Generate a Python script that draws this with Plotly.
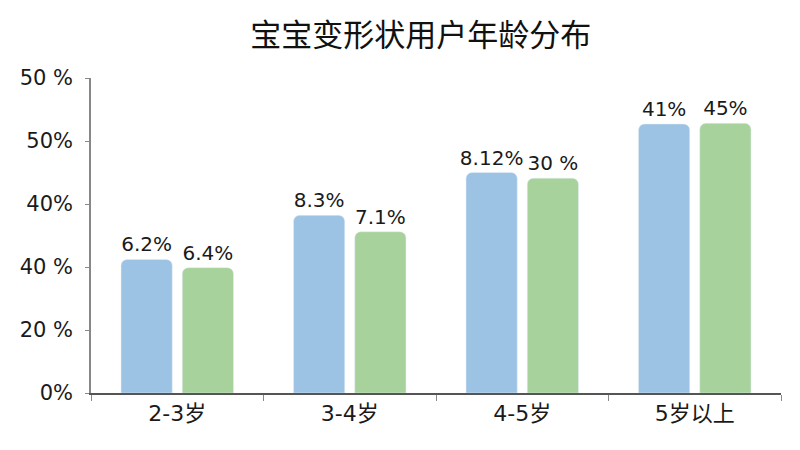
import plotly.graph_objects as go

# age groups and the two series (heights, in axis units 0..5)
categories = ["2-3岁", "3-4岁", "4-5岁", "5岁以上"]
blue_values = [2.12, 2.82, 3.50, 4.27]
green_values = [1.99, 2.56, 3.41, 4.28]
blue_labels = ["6.2%", "8.3%", "8.12%", "41%"]
green_labels = ["6.4%", "7.1%", "30 %", "45%"]

# y tick labels exactly as printed on the chart
tick_vals = [0, 1, 2, 3, 4, 5]
tick_text = ["0%", "20 %", "40 %", "40%", "50%", "50 %"]

num_font = "DejaVu Sans, Noto Sans CJK SC"
cjk_font = "Noto Sans CJK SC"

fig = go.Figure()
fig.add_trace(go.Bar(
    x=categories, y=blue_values, text=blue_labels,
    marker=dict(color="#9CC2E4", cornerradius=6),
    textposition="outside", cliponaxis=False, constraintext="none",
    textfont=dict(size=20, color="#1a1a1a", family=num_font),
))
fig.add_trace(go.Bar(
    x=categories, y=green_values, text=green_labels,
    marker=dict(color="#A7D29B", cornerradius=6),
    textposition="outside", cliponaxis=False, constraintext="none",
    textfont=dict(size=20, color="#1a1a1a", family=num_font),
))

# the page adds an 8px body margin, so margins are shifted to compensate
fig.update_layout(
    width=800, height=450,
    paper_bgcolor="white", plot_bgcolor="white",
    showlegend=False,
    barmode="group", bargap=0.29, bargroupgap=0.164,
    margin=dict(l=83, r=27, t=70, b=65),
    font=dict(family=num_font, color="#1a1a1a"),
    title=dict(text="宝宝变形状用户年龄分布", x=0.516, xanchor="center",
               y=0.94, yanchor="middle",
               font=dict(size=31, family=cjk_font, color="#111111")),
)
fig.update_yaxes(
    range=[0, 5], tickvals=tick_vals, ticktext=tick_text,
    showgrid=False, zeroline=False, automargin=False,
    showline=True, linecolor="#888888", linewidth=1.5,
    ticks="outside", ticklen=4, tickcolor="#888888",
    ticklabelstandoff=8,
    tickfont=dict(size=21, family=num_font, color="#1a1a1a"),
)
fig.update_xaxes(
    showline=True, linecolor="#555555", linewidth=1.5, automargin=False,
    ticks="outside", ticklen=6, tickcolor="#888888",
    tickson="boundaries",
    tickfont=dict(size=22, family=num_font, color="#1a1a1a"),
)

fig.write_html("out.html")
